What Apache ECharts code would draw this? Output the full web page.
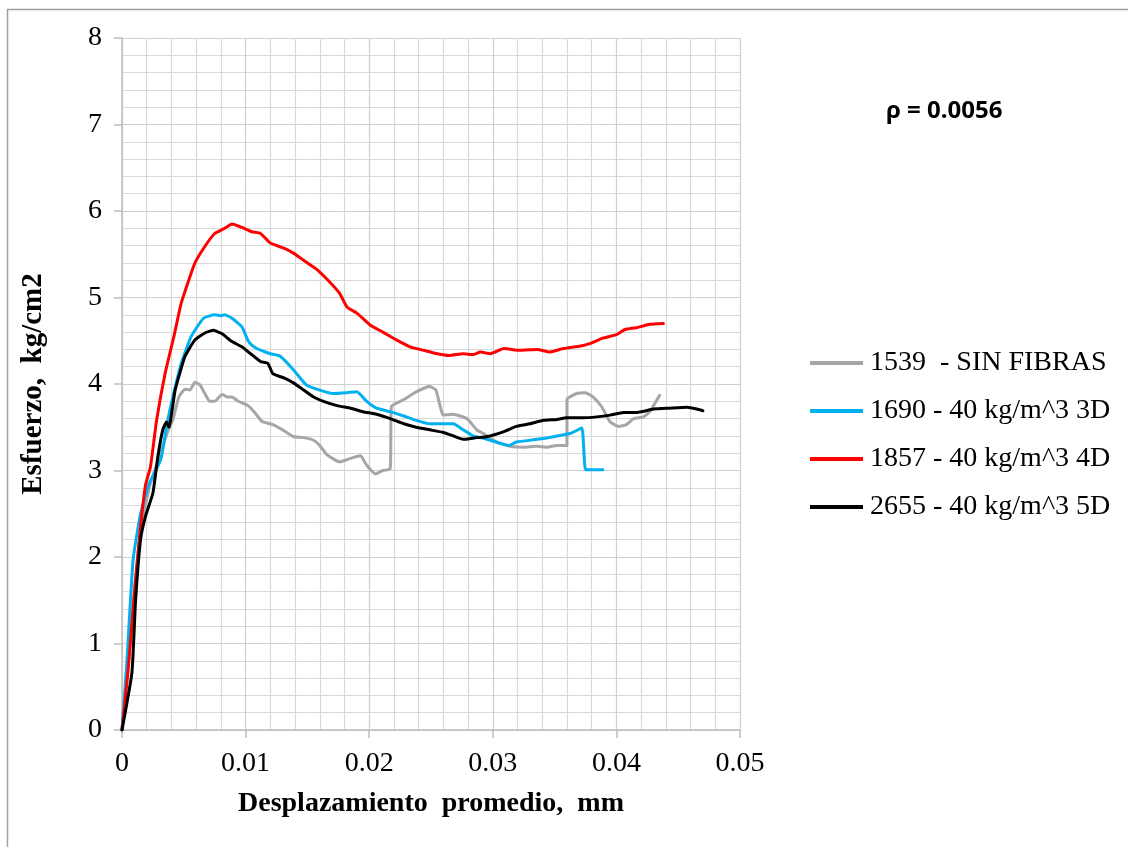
<!DOCTYPE html>
<html>
<head>
<meta charset="utf-8">
<script src="https://cdn.jsdelivr.net/npm/echarts@6/dist/echarts.min.js"></script>
<style>
  html, body { margin: 0; padding: 0; background: #fff; }
  #chart { width: 1128px; height: 847px; }
</style>
</head>
<body>
<div id="chart"></div>
<script>
// Esfuerzo vs desplazamiento promedio, rho = 0.0056
const xTicks = [0, 0.01, 0.02, 0.03, 0.04, 0.05];
const yTicks = [0, 1, 2, 3, 4, 5, 6, 7, 8];

const seriesNames = [
  '1539  - SIN FIBRAS',
  '1690 - 40 kg/m^3 3D',
  '1857 - 40 kg/m^3 4D',
  '2655 - 40 kg/m^3 5D'
];

// [desplazamiento (mm), esfuerzo (kg/cm2)]
const sinFibras1539 = [
  [0,0],[0.0005,0.75],[0.001,1.6],[0.0015,2.3],[0.0022,2.8],[0.003,3.15],[0.0037,3.45],
  [0.0041,3.58],[0.0046,3.85],[0.0051,3.94],[0.0055,3.93],[0.0059,4.02],[0.0063,3.99],
  [0.0067,3.89],[0.0071,3.80],[0.0075,3.80],[0.0081,3.88],[0.0085,3.85],[0.0089,3.85],
  [0.0094,3.80],[0.0102,3.75],[0.0108,3.66],[0.0113,3.57],[0.0122,3.53],[0.0130,3.47],
  [0.0139,3.39],[0.0147,3.38],[0.0155,3.35],[0.0160,3.29],[0.0166,3.18],[0.0176,3.10],
  [0.0185,3.14],[0.0193,3.17],[0.0198,3.06],[0.0205,2.96],[0.0211,3.00],[0.0217,3.02],
  [0.0218,3.74],[0.0228,3.82],[0.0238,3.91],[0.0249,3.97],[0.0254,3.93],[0.0260,3.64],
  [0.0268,3.65],[0.0279,3.60],[0.0287,3.47],[0.0292,3.43],[0.0303,3.33],[0.0314,3.28],
  [0.0325,3.27],[0.0335,3.28],[0.0344,3.27],[0.0352,3.29],[0.0360,3.29],[0.0360,3.82],
  [0.0368,3.89],[0.0375,3.90],[0.0381,3.85],[0.0388,3.74],[0.0395,3.56],[0.0402,3.51],
  [0.0408,3.53],[0.0414,3.60],[0.0422,3.62],[0.0427,3.68],[0.0435,3.87]
];

const fibra1690 = [
  [0,0],[0.0004,0.8],[0.0009,1.97],[0.0015,2.5],[0.0022,2.85],[0.0029,3.05],[0.0032,3.16],
  [0.0036,3.5],[0.0040,3.78],[0.0048,4.24],[0.0056,4.55],[0.0066,4.76],[0.0075,4.80],
  [0.0080,4.79],[0.0083,4.80],[0.0089,4.76],[0.0097,4.66],[0.0102,4.50],[0.0105,4.45],
  [0.0109,4.41],[0.0116,4.37],[0.0120,4.35],[0.0128,4.32],[0.0139,4.16],[0.0149,3.99],
  [0.0160,3.93],[0.0171,3.89],[0.0182,3.90],[0.0190,3.91],[0.0198,3.80],[0.0206,3.72],
  [0.0217,3.68],[0.0228,3.63],[0.0238,3.58],[0.0249,3.54],[0.0260,3.54],[0.0268,3.54],
  [0.0276,3.47],[0.0284,3.40],[0.0290,3.38],[0.0298,3.35],[0.0313,3.29],[0.0319,3.33],
  [0.0336,3.36],[0.0349,3.39],[0.0363,3.43],[0.0372,3.49],[0.0375,3.01],[0.0381,3.01],
  [0.0389,3.01]
];

const fibra1857 = [
  [0,0],[0.0005,0.7],[0.0010,1.58],[0.0015,2.35],[0.0019,2.83],[0.0023,3.04],[0.0028,3.58],
  [0.0035,4.13],[0.0042,4.55],[0.0048,4.94],[0.0054,5.20],[0.0059,5.40],[0.0067,5.59],
  [0.0075,5.74],[0.0083,5.80],[0.0089,5.85],[0.0097,5.81],[0.0105,5.76],[0.0112,5.74],
  [0.0120,5.63],[0.0131,5.57],[0.0139,5.51],[0.0147,5.43],[0.0158,5.32],[0.0168,5.18],
  [0.0176,5.05],[0.0182,4.89],[0.0190,4.82],[0.0201,4.68],[0.0211,4.60],[0.0222,4.51],
  [0.0233,4.43],[0.0244,4.39],[0.0255,4.35],[0.0265,4.33],[0.0276,4.35],[0.0284,4.34],
  [0.0290,4.37],[0.0298,4.35],[0.0309,4.41],[0.0322,4.39],[0.0336,4.40],[0.0346,4.37],
  [0.0357,4.41],[0.0371,4.44],[0.0379,4.47],[0.0389,4.53],[0.0400,4.57],[0.0407,4.63],
  [0.0416,4.65],[0.0427,4.69],[0.0438,4.70]
];

const fibra2655 = [
  [0,0],[0.0008,0.66],[0.0011,1.5],[0.0015,2.2],[0.0019,2.47],[0.0025,2.74],[0.0029,3.16],
  [0.0033,3.47],[0.0036,3.56],[0.0038,3.50],[0.0043,3.93],[0.0051,4.32],[0.0059,4.51],
  [0.0067,4.59],[0.0074,4.62],[0.0081,4.58],[0.0089,4.49],[0.0097,4.43],[0.0104,4.35],
  [0.0112,4.26],[0.0118,4.24],[0.0122,4.12],[0.0131,4.07],[0.0139,4.01],[0.0147,3.93],
  [0.0155,3.85],[0.0163,3.80],[0.0174,3.75],[0.0185,3.72],[0.0195,3.68],[0.0206,3.65],
  [0.0217,3.60],[0.0228,3.54],[0.0238,3.50],[0.0249,3.47],[0.0260,3.44],[0.0268,3.40],
  [0.0276,3.36],[0.0287,3.38],[0.0295,3.39],[0.0309,3.45],[0.0319,3.51],[0.0330,3.54],
  [0.0341,3.58],[0.0352,3.59],[0.0360,3.61],[0.0373,3.61],[0.0384,3.62],[0.0395,3.64],
  [0.0406,3.67],[0.0416,3.67],[0.0430,3.71],[0.0443,3.72],[0.0457,3.73],[0.0465,3.71],
  [0.0470,3.69]
];

const seriesData = [sinFibras1539, fibra1690, fibra1857, fibra2655];
const seriesColors = ['#a6a6a6', '#00b0f0', '#ff0000', '#000000'];

const serif = '"Liberation Serif", "Times New Roman", serif';
const chart = echarts.init(document.getElementById('chart'), null, { renderer: 'canvas' });

const option = {
  animation: false,
  backgroundColor: '#ffffff',
  grid: { left: 122, top: 38, width: 618, height: 692, containLabel: false },
  graphic: [
    {
      type: 'rect',
      shape: { x: 7.5, y: 9.5, width: 1140, height: 860 },
      style: { fill: 'none', stroke: '#a0a0a0', lineWidth: 1.5 },
      silent: true, z: -10
    },
    {
      type: 'text',
      left: 886, top: 99,
      style: {
        text: 'ρ = 0.0056',
        font: 'bold 24px "Open Sans", "Noto Sans", sans-serif',
        fill: '#000'
      }
    }
  ],
  legend: {
    orient: 'vertical',
    left: 805, top: 343,
    itemWidth: 53, itemHeight: 4, itemGap: 18,
    icon: 'rect',
    data: seriesNames,
    textStyle: { fontFamily: serif, fontSize: 28, color: '#000', lineHeight: 30, padding: [0, 0, 0, 2] }
  },
  xAxis: {
    type: 'value',
    min: 0, max: 0.05, interval: 0.01,
    name: 'Desplazamiento  promedio,  mm',
    nameLocation: 'middle', nameGap: 60,
    nameTextStyle: { fontFamily: serif, fontWeight: 'bold', fontSize: 28, color: '#000' },
    axisLine: { show: true, onZero: false, lineStyle: { color: '#bfbfbf', width: 1.5 } },
    axisTick: { show: true, inside: false, length: 8, lineStyle: { color: '#bfbfbf', width: 1.5 } },
    axisLabel: {
      margin: 20, fontFamily: serif, fontSize: 28, color: '#000',
      formatter: v => xTicks.includes(+v.toFixed(3)) ? String(+v.toFixed(3)) : ''
    },
    splitLine: { show: true, lineStyle: { color: '#cfcfcf', width: 1.2 } },
    minorTick: { show: false, splitNumber: 5 },
    minorSplitLine: { show: true, lineStyle: { color: '#d9d9d9', width: 1.2 } }
  },
  yAxis: {
    type: 'value',
    min: 0, max: 8, interval: 1,
    name: 'Esfuerzo,  kg/cm2',
    nameLocation: 'middle', nameGap: 74,
    nameTextStyle: { fontFamily: serif, fontWeight: 'bold', fontSize: 29, color: '#000' },
    axisLine: { show: true, lineStyle: { color: '#bfbfbf', width: 1.5 } },
    axisTick: { show: true, inside: false, length: 8, lineStyle: { color: '#bfbfbf', width: 1.5 } },
    axisLabel: {
      margin: 20, fontFamily: serif, fontSize: 28, color: '#000',
      formatter: v => yTicks.includes(v) ? String(v) : ''
    },
    splitLine: { show: true, lineStyle: { color: '#cfcfcf', width: 1.2 } },
    minorTick: { show: false, splitNumber: 5 },
    minorSplitLine: { show: true, lineStyle: { color: '#d9d9d9', width: 1.2 } }
  },
  series: seriesNames.map((name, i) => ({
    name,
    type: 'line',
    data: seriesData[i],
    showSymbol: false,
    symbol: 'none',
    smooth: 0.15,
    color: seriesColors[i],
    lineStyle: { color: seriesColors[i], width: 3, cap: 'round', join: 'round' },
    z: 2 + i
  }))
};

chart.setOption(option);
</script>
</body>
</html>
